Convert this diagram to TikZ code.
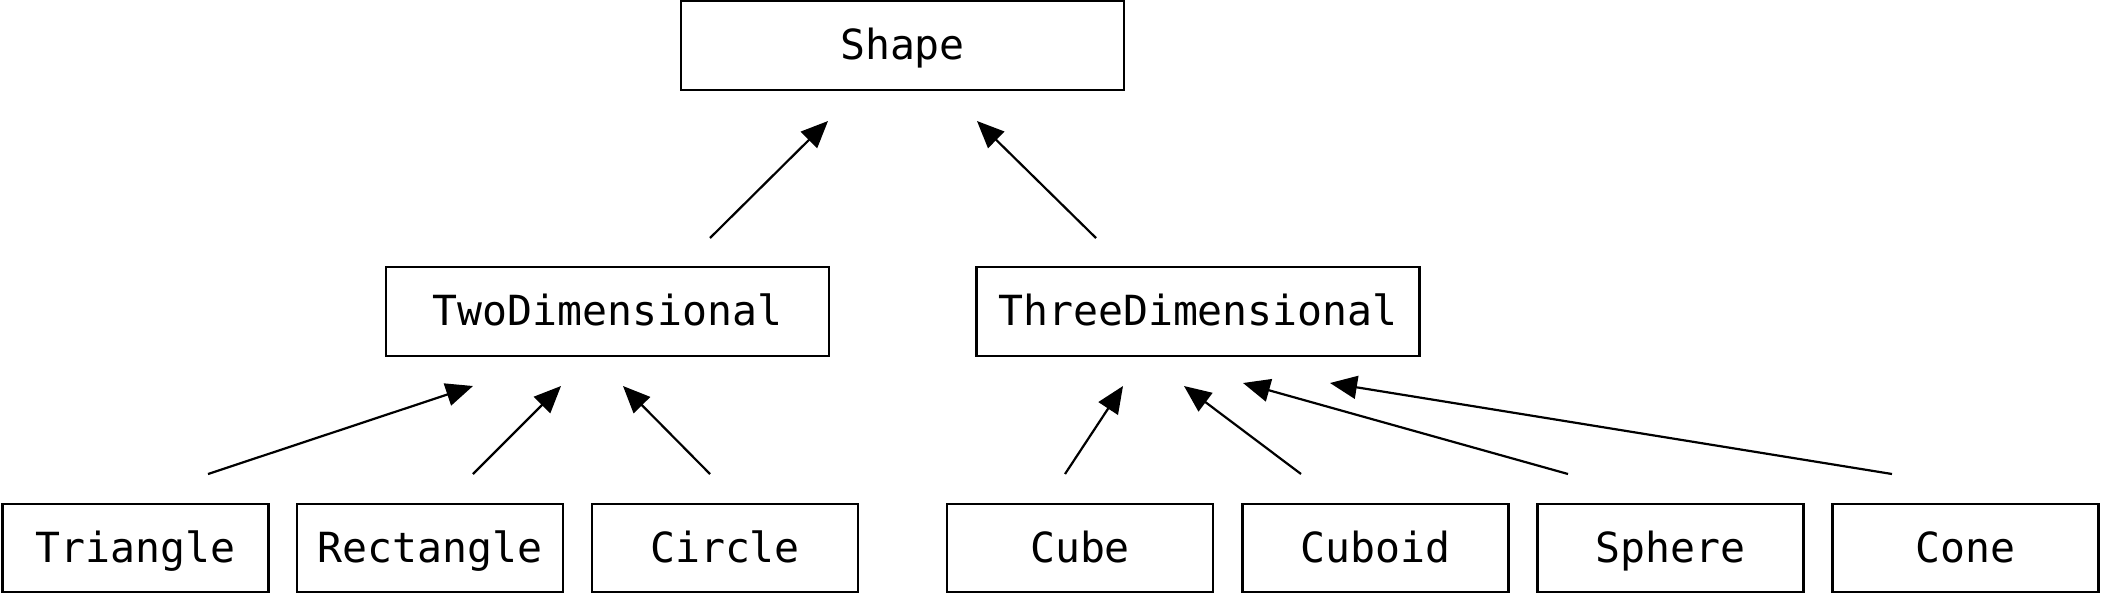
\documentclass[tikz,border=0pt]{standalone}
\usepackage{fontspec}
\setmonofont{DejaVu Sans Mono}
\usetikzlibrary{arrows.meta}
\begin{document}
\begin{tikzpicture}[x=1pt,y=-1pt,
  boxbase/.style={draw, line width=2.8pt, inner sep=0pt, text height=30pt, text depth=2pt, font=\fontsize{41.5}{41.5}\selectfont\ttfamily},
  bigbox/.style={boxbase, minimum width=443pt, minimum height=89pt},
  smallbox/.style={boxbase, minimum width=266pt, minimum height=88pt},
  inherit/.style={line width=2.2pt, -{Triangle[length=27pt,width=23pt]}}]
\useasboundingbox (0,0) rectangle (2101,595);
\node[bigbox] (shape) at (902.5,45.5) {Shape};
\node[bigbox] (two) at (607.5,311.5) {TwoDimensional};
\node[bigbox] (three) at (1198,311.5) {ThreeDimensional};
\node[smallbox] (tri) at (135.5,548) {Triangle};
\node[smallbox] (rect) at (430,548) {Rectangle};
\node[smallbox] (circ) at (725,548) {Circle};
\node[smallbox] (cube) at (1080,548) {Cube};
\node[smallbox] (cuboid) at (1375.5,548) {Cuboid};
\node[smallbox] (sphere) at (1670.5,548) {Sphere};
\node[smallbox] (cone) at (1965.5,548) {Cone};
% connector ends
\coordinate (twoS) at (710,238);
\coordinate (twoT) at (828,121);
\coordinate (threeS) at (1096,238);
\coordinate (threeT) at (977,121);
\coordinate (triS) at (208,474);
\coordinate (triT) at (473,386);
\coordinate (rectS) at (473,474);
\coordinate (rectT) at (561,386);
\coordinate (circS) at (710,474);
\coordinate (circT) at (623,386);
\coordinate (cubeS) at (1065,474);
\coordinate (cubeT) at (1123,386);
\coordinate (cuboidS) at (1301,474);
\coordinate (cuboidT) at (1184,386);
\coordinate (sphereS) at (1568,474);
\coordinate (sphereT) at (1243,383);
\coordinate (coneS) at (1892,474);
\coordinate (coneT) at (1330,383);
\draw[inherit] (twoS) -- (twoT);
\draw[inherit] (threeS) -- (threeT);
\draw[inherit] (triS) -- (triT);
\draw[inherit] (rectS) -- (rectT);
\draw[inherit] (circS) -- (circT);
\draw[inherit] (cubeS) -- (cubeT);
\draw[inherit] (cuboidS) -- (cuboidT);
\draw[inherit] (sphereS) -- (sphereT);
\draw[inherit] (coneS) -- (coneT);
\end{tikzpicture}
\end{document}
